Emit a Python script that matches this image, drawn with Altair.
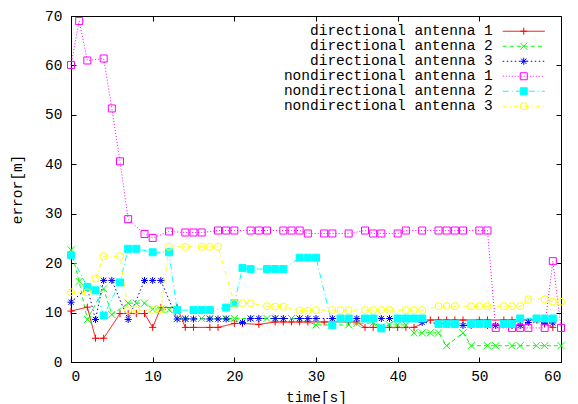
import altair as alt
import pandas as pd

series_names = [
    "directional antenna 1",
    "directional antenna 2",
    "directional antenna 3",
    "nondirectional antenna 1",
    "nondirectional antenna 2",
    "nondirectional antenna 3",
]

# (time [s], error [m])
directional_1 = [(0, 10.3), (2, 11.1), (3, 4.8), (4, 4.8), (6, 9.8), (7, 9.8), (8, 9.8), (9, 9.8),
                 (10, 7.0), (11, 11.0), (13, 11.0), (14, 7.0), (15, 7.0), (17, 7.0), (18, 7.0),
                 (20, 7.8), (21, 7.8), (23, 7.6), (25, 8.1), (26, 8.1), (27, 8.1), (28, 8.1),
                 (29, 8.1), (31, 8.1), (32, 8.1), (34, 8.1), (35, 8.1), (36, 7.0), (37, 7.0),
                 (39, 7.0), (40, 7.0), (41, 7.0), (42, 7.0), (44, 8.5), (45, 8.5), (46, 8.5),
                 (47, 8.5), (48, 8.5), (50, 8.5), (51, 8.5), (53, 8.5), (54, 8.5), (55, 8.5),
                 (57, 8.5), (58, 7.8), (59, 7.0)]
directional_2 = [(0, 22.7), (1, 16.3), (2, 8.6), (4, 14.8), (5, 9.6), (7, 11.9), (8, 11.9), (9, 11.9),
                 (10, 10.7), (11, 10.7), (12, 10.6), (13, 8.8), (14, 8.8), (16, 8.8), (17, 8.8),
                 (19, 8.8), (20, 8.8), (22, 8.8), (24, 8.8), (25, 8.8), (27, 8.8), (28, 8.8),
                 (30, 7.5), (32, 7.5), (34, 7.5), (35, 7.8), (37, 7.9), (38, 7.1), (39, 7.5),
                 (40, 7.5), (41, 7.5), (42, 5.9), (43, 5.9), (44, 5.9), (45, 5.9), (46, 3.3),
                 (48, 5.9), (49, 3.3), (51, 3.3), (52, 3.3), (54, 3.3), (55, 3.3), (57, 3.3),
                 (58, 3.3), (60, 3.3)]
directional_3 = [(0, 12.1), (2, 15.0), (3, 8.6), (4, 16.5), (5, 16.5), (7, 8.6), (9, 16.5), (10, 16.5),
                 (11, 16.5), (13, 8.7), (14, 8.7), (15, 8.7), (17, 8.7), (18, 8.7), (19, 8.7),
                 (21, 8.0), (22, 8.8), (23, 8.8), (25, 8.8), (26, 8.8), (28, 8.8), (29, 8.8),
                 (30, 8.8), (32, 8.8), (33, 8.8), (35, 8.8), (36, 8.8), (38, 8.8), (39, 8.8),
                 (41, 8.8), (42, 8.8), (43, 8.0), (45, 7.8), (46, 7.8), (48, 7.4), (49, 7.4),
                 (51, 7.4), (52, 7.4), (54, 7.4), (55, 7.4), (56, 8.0), (58, 7.9), (59, 7.9)]
nondirectional_1 = [(0, 60.1), (1, 69.0), (2, 61.0), (4, 61.4), (5, 51.3), (6, 40.6), (7, 28.9),
                    (9, 25.9), (10, 25.1), (12, 26.4), (14, 26.2), (15, 26.2), (16, 26.2), (18, 26.6),
                    (19, 26.6), (20, 26.6), (22, 26.6), (23, 26.6), (24, 26.6), (26, 26.6), (27, 26.6),
                    (28, 26.6), (29, 26.0), (31, 26.0), (32, 26.0), (34, 26.0), (36, 26.6), (37, 26.0),
                    (38, 26.0), (40, 26.0), (41, 26.6), (43, 26.6), (45, 26.6), (46, 26.6), (47, 26.6),
                    (48, 26.6), (50, 26.6), (51, 26.6), (52, 6.9), (54, 6.9), (55, 6.9), (56, 6.9),
                    (58, 6.9), (59, 20.4), (60, 6.9)]
nondirectional_2 = [(0, 21.6), (2, 15.2), (3, 14.5), (4, 9.4), (6, 16.1), (7, 22.9), (8, 22.9),
                    (10, 22.2), (12, 22.2), (13, 10.5), (15, 10.5), (16, 10.5), (17, 10.5), (19, 11.0),
                    (20, 11.9), (21, 19.0), (22, 18.8), (24, 18.8), (25, 18.8), (26, 18.8), (28, 21.1),
                    (29, 21.1), (30, 21.1), (32, 7.5), (33, 8.8), (34, 8.8), (36, 8.8), (37, 8.8),
                    (38, 6.8), (40, 8.8), (41, 8.8), (42, 8.8), (43, 8.8), (45, 7.7), (46, 7.7),
                    (47, 7.7), (49, 7.7), (50, 7.7), (51, 7.7), (53, 7.7), (54, 7.7), (55, 8.8),
                    (57, 8.8), (58, 8.8), (59, 8.8)]
nondirectional_3 = [(0, 14.1), (2, 14.1), (3, 16.9), (4, 21.4), (6, 21.4), (7, 10.5), (8, 10.5),
                    (10, 10.5), (11, 10.6), (12, 23.3), (14, 23.3), (16, 23.3), (17, 23.3), (18, 23.3),
                    (20, 11.9), (21, 11.9), (22, 11.9), (24, 11.3), (25, 11.2), (26, 11.2), (28, 10.4),
                    (29, 10.4), (30, 10.5), (32, 10.5), (33, 10.5), (34, 10.5), (36, 10.5), (37, 10.5),
                    (38, 10.5), (39, 10.5), (41, 10.5), (42, 10.5), (43, 10.5), (45, 11.3), (46, 11.3),
                    (47, 11.3), (49, 11.3), (50, 11.3), (51, 11.3), (53, 11.3), (54, 11.3), (55, 11.3),
                    (56, 12.7), (58, 12.7), (59, 12.2), (60, 12.2)]

x_ticks = [0, 10, 20, 30, 40, 50, 60]
y_ticks = [0, 10, 20, 30, 40, 50, 60, 70]

line_colors = ["#ff0000", "#00ff00", "#0000ff", "#ff00ff", "#00ffff", "#ffff00"]
line_dashes = [[1, 0], [4, 3], [1.5, 2.5], [1, 2], [6, 3, 1, 3], [4, 3, 1, 3]]
point_shapes = [
    "M-1,0L1,0M0,-1L0,1",
    "M-1,-1L1,1M-1,1L1,-1",
    "M-1,0L1,0M0,-1L0,1M-0.75,-0.75L0.75,0.75M-0.75,0.75L0.75,-0.75",
    "square",
    "square",
    "circle",
]
point_fills = ["transparent", "transparent", "transparent", "transparent", "#00ffff", "transparent"]

all_series = [directional_1, directional_2, directional_3,
              nondirectional_1, nondirectional_2, nondirectional_3]
rows = []
for name, pts in zip(series_names, all_series):
    for t, v in pts:
        rows.append({"series": name, "t": t, "v": v})
df = pd.DataFrame(rows)

FONT = "Liberation Mono"
FS = 14.5
W, H = 490, 346

xs = alt.Scale(domain=[0, 60], nice=False, zero=False)
ys = alt.Scale(domain=[0, 70], nice=False, zero=False)

pad_expr = "length(datum.label) < 24 ? '\u00a0\u00a0\u00a0' + datum.label : datum.label"

LX, LY = 445.5, 8

leg_line = alt.Legend(orient="none", legendX=LX, legendY=LY, title=None, padding=0, rowPadding=0,
                      labelFont=FONT, labelFontSize=FS, labelColor="black", labelLimit=400,
                      labelAlign="right", labelOffset={"expr": "-38.25"}, labelExpr=pad_expr,
                      symbolType="M-3.5,0L3.5,0", symbolSize=144, symbolStrokeWidth=1, columns=1)
leg_pt = alt.Legend(orient="none", legendX=LX, legendY=LY, title=None, padding=0, rowPadding=0,
                    labelFont=FONT, labelFontSize=FS, labelColor="black", labelLimit=400,
                    labelAlign="right", labelOffset={"expr": "-38.25"}, labelOpacity=0,
                    labelExpr=pad_expr, symbolSize=49, symbolStrokeWidth=1, columns=1)

base = alt.Chart(df)

lines = base.mark_line(strokeWidth=1).encode(
    x=alt.X("t:Q", scale=xs, axis=alt.Axis(orient="bottom", values=x_ticks, ticks=False, domain=False,
                                           grid=False, labelPadding=7, title="time[s]", titleX=245,
                                           titleY=35, titleBaseline="middle")),
    y=alt.Y("v:Q", scale=ys, axis=alt.Axis(orient="left", values=y_ticks, ticks=False, domain=False,
                                           grid=False, labelPadding=9, title="error[m]", titleX=-54,
                                           titleY=173, titleBaseline="middle", titleAngle=270)),
    color=alt.Color("series:N", scale=alt.Scale(domain=series_names, range=line_colors), legend=leg_line),
    strokeDash=alt.StrokeDash("series:N", scale=alt.Scale(domain=series_names, range=line_dashes),
                              legend=leg_line),
)

points = base.mark_point(filled=True, size=49, strokeWidth=1, opacity=1).encode(
    x=alt.X("t:Q", scale=xs, axis=alt.Axis(orient="top", offset=-H, values=x_ticks, labels=False,
                                           domain=False, grid=False, tickSize=5, tickColor="black",
                                           title=None)),
    y=alt.Y("v:Q", scale=ys, axis=alt.Axis(orient="right", offset=-W, values=y_ticks, labels=False,
                                           domain=False, grid=False, tickSize=5, tickColor="black",
                                           title=None)),
    shape=alt.Shape("series:N", scale=alt.Scale(range=point_shapes), legend=leg_pt),
    stroke=alt.Stroke("series:N", scale=alt.Scale(range=line_colors), legend=leg_pt),
    fill=alt.Fill("series:N", scale=alt.Scale(range=point_fills), legend=leg_pt),
)

ghost = base.mark_point(opacity=0).encode(
    x=alt.X("t:Q", scale=xs, axis=alt.Axis(orient="bottom", offset=-H, values=x_ticks, labels=False,
                                           domain=False, grid=False, tickSize=5, tickColor="black",
                                           title=None)),
    y=alt.Y("v:Q", scale=ys, axis=alt.Axis(orient="left", offset=-W, values=y_ticks, labels=False,
                                           domain=False, grid=False, tickSize=5, tickColor="black",
                                           title=None)),
)

chart = alt.layer(lines, points, ghost).resolve_axis(
    x="independent", y="independent"
).properties(
    width=W, height=H,
    autosize=alt.AutoSizeParams(type="none"),
    padding={"left": 63, "top": 8, "right": 9, "bottom": 42},
).configure_view(
    stroke="black", strokeWidth=1
).configure_axis(
    labelFont=FONT, labelFontSize=FS, labelColor="black",
    titleFont=FONT, titleFontSize=FS, titleFontWeight="normal", titleColor="black",
)

chart.save("out.html", embed_options={"renderer": "svg", "actions": False})
